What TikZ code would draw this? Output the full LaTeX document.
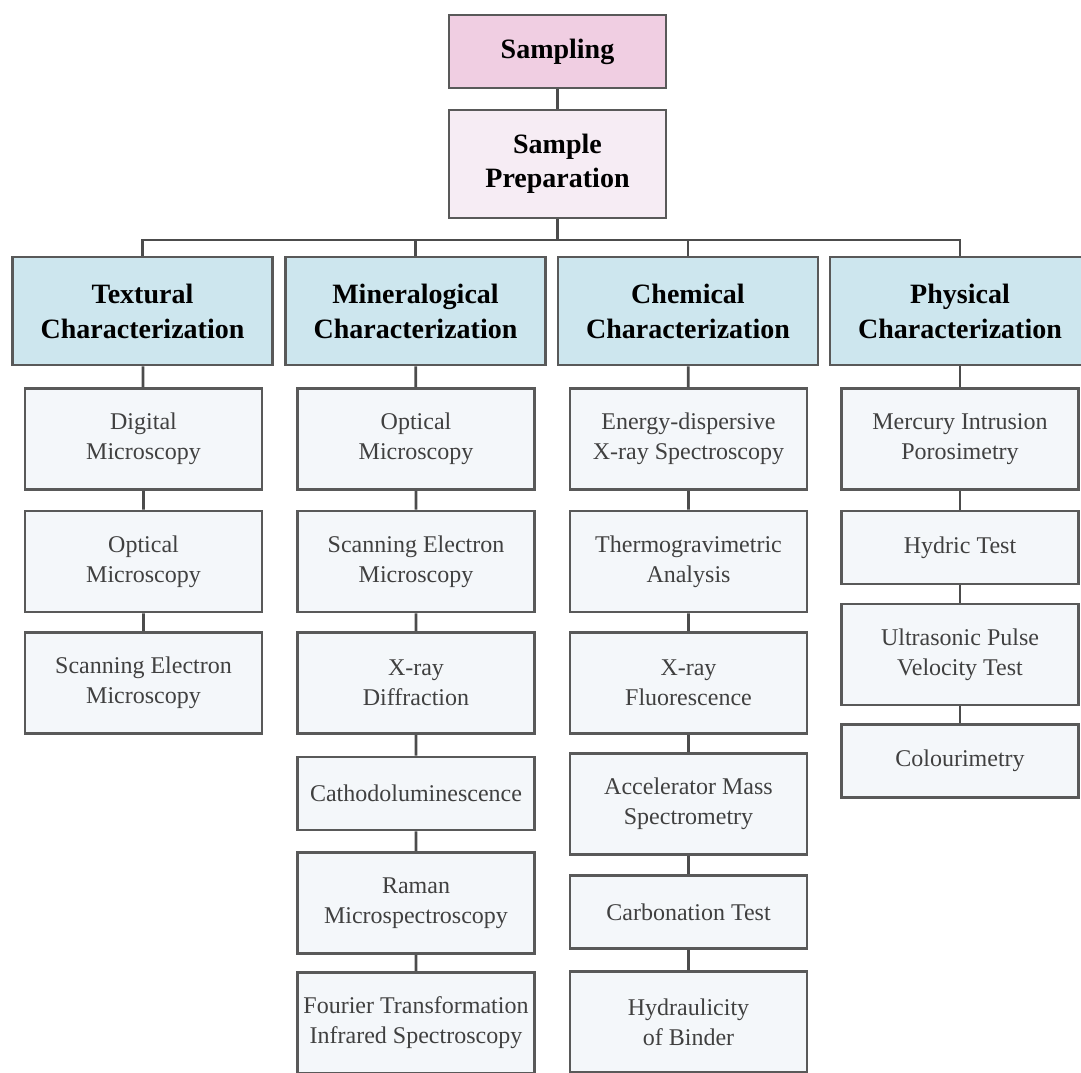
\documentclass[tikz,border=0pt]{standalone}
\usepackage{fontspec}
\setmainfont{Liberation Serif}
\definecolor{sampink}{RGB}{240,206,226}
\definecolor{preppink}{RGB}{246,236,244}
\definecolor{catblue}{RGB}{205,230,238}
\definecolor{subgrey}{RGB}{244,247,250}
\begin{document}
\begin{tikzpicture}
[
	x=0.5pt,y=-0.5pt,
	box/.style={rectangle,draw=black!65,line width=1.4pt,align=center,inner sep=2pt},
	topbox/.style={box,fill=sampink,minimum width=108.5pt,font=\bfseries\fontsize{14}{17}\selectfont},
	catbox/.style={box,fill=catblue,minimum width=130pt,minimum height=54pt,font=\bfseries\fontsize{14}{17.5}\selectfont},
	subbox/.style={box,fill=subgrey,minimum width=118.5pt,text=black!75,font=\fontsize{12}{15}\selectfont},
	tall/.style={minimum height=50.5pt},
	short/.style={minimum height=36.5pt},
	link/.style={draw=black!70,line width=1.4pt}
]
	\useasboundingbox (0,0) rectangle (1081,1072);
	\clip (0,0) rectangle (1081,1072);

	% top of the tree
	\node[topbox,short] (samp) at (557.5,51.5) {Sampling};
	\node[topbox,fill=preppink,minimum height=54pt] (prep) at (557.5,164) {Sample\\Preparation};

	\node[catbox] (tex) at (142.5,311) {Textural\\Characterization};
	\node[catbox] (min) at (415.5,311) {Mineralogical\\Characterization};
	\node[catbox] (chem) at (688,311) {Chemical\\Characterization};
	\node[catbox] (phy) at (960,311) {Physical\\Characterization};

	% textural
	\node[subbox,tall] (t1) at (143.5,439) {Digital\\Microscopy};
	\node[subbox,tall] (t2) at (143.5,561.5) {Optical\\Microscopy};
	\node[subbox,tall] (t3) at (143.5,683) {Scanning Electron\\Microscopy};

	% mineralogical
	\node[subbox,tall] (m1) at (416,439) {Optical\\Microscopy};
	\node[subbox,tall] (m2) at (416,561.5) {Scanning Electron\\Microscopy};
	\node[subbox,tall] (m3) at (416,683) {X-ray\\Diffraction};
	\node[subbox,short] (m4) at (416,793.5) {Cathodoluminescence};
	\node[subbox,tall] (m5) at (416,903) {Raman\\Microspectroscopy};
	\node[subbox,tall] (m6) at (416,1023) {Fourier Transformation\\Infrared Spectroscopy};

	% chemical
	\node[subbox,tall] (c1) at (688.5,439) {Energy-dispersive\\X-ray Spectroscopy};
	\node[subbox,tall] (c2) at (688.5,561.5) {Thermogravimetric\\Analysis};
	\node[subbox,tall] (c3) at (688.5,683) {X-ray\\Fluorescence};
	\node[subbox,tall] (c4) at (688.5,804) {Accelerator Mass\\Spectrometry};
	\node[subbox,short] (c5) at (688.5,912) {Carbonation Test};
	\node[subbox,tall] (c6) at (688.5,1022) {Hydraulicity\\of Binder};

	% physical
	\node[subbox,tall] (p1) at (960,439) {Mercury Intrusion\\Porosimetry};
	\node[subbox,short] (p2) at (960,547.5) {Hydric Test};
	\node[subbox,tall] (p3) at (960,654.5) {Ultrasonic Pulse\\Velocity Test};
	\node[subbox,short] (p4) at (960,761) {Colourimetry};

	\coordinate (bus) at (557.5,240);
	\draw[link] (samp) -- (prep);
	\draw[link] (prep) -- (prep |- bus);
	\draw[link] (tex) -- (tex |- bus) -- (phy |- bus) -- (phy);
	\draw[link] (min) -- (min |- bus);
	\draw[link] (chem) -- (chem |- bus);

	\draw[link] (tex) -- (t1) -- (t2) -- (t3);
	\draw[link] (min) -- (m1) -- (m2) -- (m3) -- (m4) -- (m5) -- (m6);
	\draw[link] (chem) -- (c1) -- (c2) -- (c3) -- (c4) -- (c5) -- (c6);
	\draw[link] (phy) -- (p1) -- (p2) -- (p3) -- (p4);

\end{tikzpicture}
\end{document}
